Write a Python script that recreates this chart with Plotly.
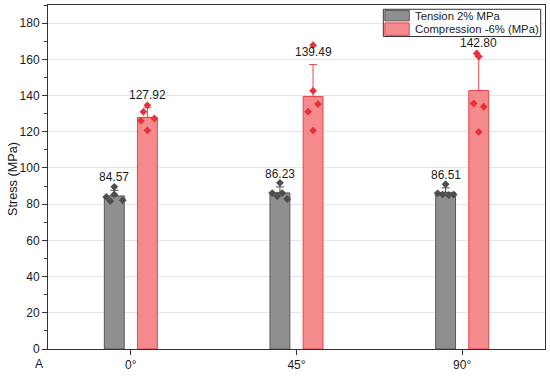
import plotly.graph_objects as go

# ---- data ----
categories = ["0°", "45°", "90°"]
tension_mean = [84.57, 86.23, 86.51]
tension_err = [3.1, 3.3, 2.5]
compression_mean = [127.92, 139.49, 142.80]
compression_err = [5.3, 17.6, 18.9]
tension_points = [
    [89.6, 84.0, 81.7, 85.4, 82.15],
    [91.8, 86.1, 84.3, 86.1, 82.85],
    [91.0, 86.0, 85.3, 85.0, 85.25],
]
compression_points = [
    [134.6, 131.0, 126.0, 127.3, 120.7],
    [167.8, 142.6, 135.3, 131.1, 120.65],
    [163.2, 161.5, 135.6, 133.8, 119.9],
]
tension_name = "Tension 2% MPa"
compression_name = "Compression -6% (MPa)"
y_title = "Stress (MPa)"
panel_label = "A"

# ---- style / layout constants ----
W, H = 550, 376
ML, MR, MT, MB = 48, 4, 5, 25
PX_PER_UNIT = 166.0
BAR_W = 0.12
BAR_OFF = 0.10
# horizontal jitter of raw points, in pixels relative to the bar centre
tension_jitter = [[0, -8, -4, 0, 8.5], [0, -7.7, -2.7, 2.3, 7.3], [0, -8, -3, 3, 8]]
compression_jitter = [[0, -4, -6.5, 7, 0], [0, 0, 5, -5, 0], [-2, 0, -5, 5, 0]]

GRAY_FILL = "#8f8f8f"
GRAY_LINE = "#5a5a5a"
GRAY_PT = "#4d4d4d"
RED_FILL = "#f58a8c"
RED_LINE = "#e2474d"
RED_PT = "#e5323b"
FONT = "Liberation Sans, Arial, sans-serif"
TXT = "#1a1a1a"

PW, PH = W - ML - MR, H - MT - MB


def px(xp):
    return (xp - ML) / PW


def py(yp):
    return (H - MB - yp) / PH


idx = list(range(len(categories)))

fig = go.Figure()

fig.add_trace(go.Bar(
    x=idx, y=tension_mean, name=tension_name, showlegend=False,
    width=BAR_W, offset=-BAR_OFF - BAR_W / 2,
    marker=dict(color=GRAY_FILL, line=dict(color=GRAY_LINE, width=1)),
    error_y=dict(type="data", symmetric=False, array=tension_err,
                 arrayminus=[0] * len(idx), color=GRAY_PT, thickness=1, width=4),
))
fig.add_trace(go.Bar(
    x=idx, y=compression_mean, name=compression_name, showlegend=False,
    width=BAR_W, offset=BAR_OFF - BAR_W / 2,
    marker=dict(color=RED_FILL, line=dict(color=RED_LINE, width=1)),
    error_y=dict(type="data", symmetric=False, array=compression_err,
                 arrayminus=[0] * len(idx), color=RED_LINE, thickness=1, width=4),
))

# raw points
for pts_all, jit_all, sign, col in [
    (tension_points, tension_jitter, -1, GRAY_PT),
    (compression_points, compression_jitter, 1, RED_PT),
]:
    xs, ys = [], []
    for i, (pts, jit) in enumerate(zip(pts_all, jit_all)):
        for v, j in zip(pts, jit):
            xs.append(i + sign * BAR_OFF + j / PX_PER_UNIT)
            ys.append(v)
    fig.add_trace(go.Scatter(
        x=xs, y=ys, mode="markers", showlegend=False,
        marker=dict(symbol="diamond", size=6, color=col, line=dict(width=0)),
        hoverinfo="skip",
    ))

# value labels
annotations = []
for i in idx:
    for mean, err, sign in [(tension_mean[i], tension_err[i], -1),
                            (compression_mean[i], compression_err[i], 1)]:
        annotations.append(dict(
            x=i + sign * BAR_OFF, y=mean + err, text=f"{mean:.2f}",
            showarrow=False, yanchor="bottom", yshift=4,
            font=dict(size=12, color=TXT, family=FONT),
        ))
annotations.append(dict(
    x=px(39), y=py(366), xref="paper", yref="paper", text=panel_label,
    xanchor="center", yanchor="middle",
    showarrow=False, font=dict(size=12, color=TXT, family=FONT),
))
annotations.append(dict(
    x=px(13), y=py(180), xref="paper", yref="paper", text=y_title,
    xanchor="center", yanchor="middle", textangle=-90,
    showarrow=False, font=dict(size=12.7, color=TXT, family=FONT),
))

# legend box (drawn manually to match the compact original legend)
shapes = [
    dict(type="rect", xref="paper", yref="paper",
         x0=px(384), x1=px(541.7), y0=py(36.7), y1=py(9.3),
         fillcolor="white", line=dict(color="#333333", width=1), layer="above"),
    dict(type="rect", xref="paper", yref="paper",
         x0=px(385.5), x1=px(410), y0=py(21), y1=py(10.5),
         fillcolor=GRAY_FILL, line=dict(color=GRAY_LINE, width=1), layer="above"),
    dict(type="rect", xref="paper", yref="paper",
         x0=px(385.5), x1=px(410), y0=py(35.5), y1=py(23),
         fillcolor=RED_FILL, line=dict(color=RED_LINE, width=1), layer="above"),
]
for name, ycen in [(tension_name, 15.6), (compression_name, 29.6)]:
    annotations.append(dict(
        x=px(414), y=py(ycen), xref="paper", yref="paper", text=name,
        xanchor="left", yanchor="middle", showarrow=False,
        font=dict(size=11.3, color=TXT, family=FONT),
    ))

fig.update_layout(
    width=W, height=H,
    margin=dict(l=ML, r=MR, t=MT, b=MB),
    paper_bgcolor="white", plot_bgcolor="white",
    font=dict(family=FONT, size=12, color=TXT),
    barmode="overlay",
    showlegend=False,
    annotations=annotations,
    shapes=shapes,
    xaxis=dict(
        range=[-0.5, 2.5], tickvals=idx, ticktext=categories,
        ticks="outside", ticklen=5, tickcolor="#333",
        showline=True, linecolor="#333", linewidth=1, mirror=True,
        showgrid=False, zeroline=False,
        tickfont=dict(size=12),
    ),
    yaxis=dict(
        range=[0, 190], dtick=20, tick0=0,
        ticks="outside", ticklen=5, tickcolor="#333",
        minor=dict(dtick=10, ticks="outside", ticklen=3, tickcolor="#333", showgrid=False),
        showline=True, linecolor="#333", linewidth=1, mirror=True,
        showgrid=True, gridcolor="#e6e6e6", gridwidth=1, zeroline=False,
        tickfont=dict(size=12),
    ),
)

fig.write_html("out.html", config={"displayModeBar": False},
               post_script="document.body.style.margin='0';")
